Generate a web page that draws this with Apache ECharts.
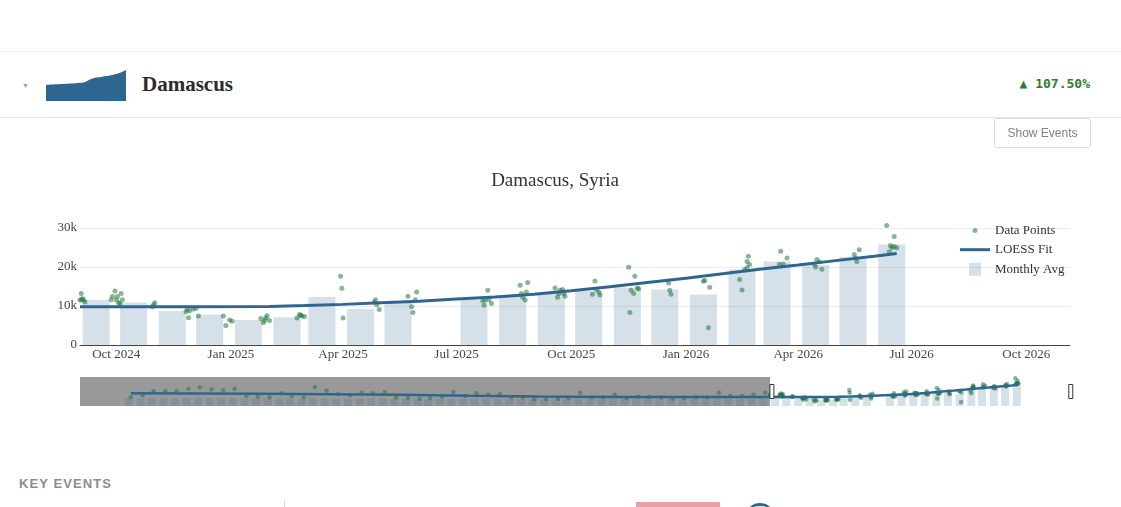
<!DOCTYPE html>
<html>
<head>
<meta charset="utf-8">
<title>Damascus, Syria</title>
<script src="https://cdn.jsdelivr.net/npm/echarts@6.0.0/dist/echarts.min.js"></script>
<style>
  html, body { margin: 0; padding: 0; background: #fff; }
  body { width: 1121px; height: 507px; position: relative; overflow: hidden; font-family: "Liberation Sans", Arial, sans-serif; }
  .abs { position: absolute; }
  #chart { position: absolute; left: 0; top: 0; width: 1121px; height: 430px; }
  #spark { position: absolute; left: 46px; top: 69px; width: 80px; height: 32px; }
  .topline { left: 0; top: 51px; width: 1121px; height: 1px; background: #f3f3f3; }
  .caret { left: 22px; top: 82px; font-size: 7px; line-height: 7px; color: #999; }
  .city { left: 142px; top: 74px; font: bold 21px/21px "Liberation Serif", serif; color: #2b2b2b; }
  .pct { right: 31px; top: 77px; font: bold 13px/13px "DejaVu Sans Mono", monospace; color: #2e7d32; }
  .sep { left: 0; top: 117px; width: 1121px; height: 1px; background: #e2e2e2; }
  .btn { left: 994px; top: 118px; width: 95px; height: 28px; border: 1px solid #dcdcdc; border-radius: 3px;
         font: 12px/28px "Liberation Sans", sans-serif; color: #808080; text-align: center; }
  .key { left: 19px; top: 477px; font: bold 13px/13px "Liberation Sans", sans-serif; letter-spacing: 1.1px; color: #8c8c8c; }
  .cut1 { left: 284px; top: 500px; width: 1px; height: 7px; background: #d8d8d8; }
  .cut2 { left: 636px; top: 502px; width: 84px; height: 5px; background: #e8a2a2; }
  .cut3 { left: 745px; top: 503px; width: 30px; height: 30px; border-radius: 50%; border-top: 3px solid #2f6690; box-sizing: border-box; }
</style>
</head>
<body>
<div class="abs topline"></div>
<div class="abs caret">&#9660;</div>
<div id="spark"></div>
<div class="abs city">Damascus</div>
<div class="abs pct">&#9650; 107.50%</div>
<div class="abs sep"></div>
<div id="chart"></div>
<div class="abs btn">Show Events</div>
<div class="abs key">KEY EVENTS</div>
<div class="abs cut1"></div>
<div class="abs cut2"></div>
<div class="abs cut3"></div>

<script>
// range of the whole series (shown in the slider) and the visible window
const fullStart = "2019-09-08";
const fullEnd = "2026-11-05";
const windowStart = "2024-09-02";

const tickDates = ["2024-10-01", "2025-01-01", "2025-04-01", "2025-07-01", "2025-10-01",
  "2026-01-01", "2026-04-01", "2026-07-01", "2026-10-01"];
const monthNames = ["Jan", "Feb", "Mar", "Apr", "May", "Jun", "Jul", "Aug", "Sep", "Oct", "Nov", "Dec"];

// monthly average (bar), one per month, June 2025 has no value
const monthlyAvg = [
  ["2020-01", 8400], ["2020-02", 8200], ["2020-03", 8600], ["2020-04", 8500], ["2020-05", 8300], ["2020-06", 8700],
  ["2020-07", 8800], ["2020-08", 8500], ["2020-09", 8400], ["2020-10", 8600], ["2020-11", 8000], ["2020-12", 7900],
  ["2021-01", 7800], ["2021-02", 8200], ["2021-03", 8000], ["2021-04", 7900], ["2021-05", 8600], ["2021-06", 8400],
  ["2021-07", 8200], ["2021-08", 8000], ["2021-09", 8300], ["2021-10", 8200], ["2021-11", 8400], ["2021-12", 7800],
  ["2022-01", 7600], ["2022-02", 7500], ["2022-03", 7600], ["2022-04", 7800], ["2022-05", 8200], ["2022-06", 7900],
  ["2022-07", 8100], ["2022-08", 8000], ["2022-09", 8000], ["2022-10", 7700], ["2022-11", 7600], ["2022-12", 7400],
  ["2023-01", 7500], ["2023-02", 7500], ["2023-03", 7600], ["2023-04", 8000], ["2023-05", 7700], ["2023-06", 7700],
  ["2023-07", 7900], ["2023-08", 7600], ["2023-09", 7800], ["2023-10", 7800], ["2023-11", 7700], ["2023-12", 7500],
  ["2024-01", 7600], ["2024-02", 7700], ["2024-03", 7700], ["2024-04", 8100], ["2024-05", 7900], ["2024-06", 7900],
  ["2024-07", 8000], ["2024-08", 8200],
  ["2024-09", 11600], ["2024-10", 10900], ["2024-11", 8700], ["2024-12", 7800],
  ["2025-01", 6400], ["2025-02", 7100], ["2025-03", 12300], ["2025-04", 9200], ["2025-05", 10900],
  ["2025-07", 11600], ["2025-08", 12500], ["2025-09", 13300], ["2025-10", 13800], ["2025-11", 14700], ["2025-12", 14200],
  ["2026-01", 12900], ["2026-02", 19300], ["2026-03", 21400], ["2026-04", 20500], ["2026-05", 22600], ["2026-06", 25700]
];

// older readings, about one a month
const earlyPoints = [
  ["2020-01-20", 9600], ["2020-02-20", 11800], ["2020-03-20", 16200], ["2020-04-20", 16200], ["2020-05-20", 16200],
  ["2020-06-20", 19000], ["2020-07-20", 20400], ["2020-08-20", 18200], ["2020-09-20", 17500], ["2020-10-20", 19000],
  ["2020-11-20", 11000], ["2020-12-20", 10300], ["2021-01-20", 9600], ["2021-02-20", 14000], ["2021-03-20", 11000],
  ["2021-04-20", 9600], ["2021-05-20", 21000], ["2021-06-20", 16900], ["2021-07-20", 13200], ["2021-08-20", 11800],
  ["2021-09-20", 14700], ["2021-10-20", 14000], ["2021-11-20", 15400], ["2021-12-20", 9600], ["2022-01-20", 8800],
  ["2022-02-20", 8100], ["2022-03-20", 8800], ["2022-04-20", 10300], ["2022-05-20", 15400], ["2022-06-20", 11000],
  ["2022-07-20", 14000], ["2022-08-20", 12500], ["2022-09-20", 13200], ["2022-10-20", 9600], ["2022-11-20", 9600],
  ["2022-12-20", 7400], ["2023-01-20", 8100], ["2023-02-20", 8100], ["2023-03-20", 8800], ["2023-04-20", 14700],
  ["2023-05-20", 9600], ["2023-06-20", 9600], ["2023-07-20", 12500], ["2023-08-20", 8800], ["2023-09-20", 10300],
  ["2023-10-20", 10300], ["2023-11-20", 9600], ["2023-12-20", 8100], ["2024-01-20", 8800], ["2024-02-20", 9600],
  ["2024-03-20", 9600], ["2024-04-20", 14700], ["2024-05-20", 11000], ["2024-06-20", 11000], ["2024-07-20", 12500],
  ["2024-08-20", 14700]
];

// recent readings (the visible window)
const recentPoints = [
  ["2024-09-02", 11500], ["2024-09-03", 13200], ["2024-09-03", 11600], ["2024-09-04", 11900], ["2024-09-05", 11500], ["2024-09-06", 11000],
  ["2024-09-27", 11600], ["2024-09-28", 12400], ["2024-09-30", 13800], ["2024-10-01", 11600], ["2024-10-02", 12400],
  ["2024-10-03", 10800], ["2024-10-04", 10600], ["2024-10-05", 13200], ["2024-10-06", 11600],
  ["2024-10-30", 9800], ["2024-10-31", 10300], ["2024-11-01", 10800],
  ["2024-11-26", 8500], ["2024-11-27", 9100], ["2024-11-28", 7000], ["2024-11-29", 8800], ["2024-12-02", 9200],
  ["2024-12-04", 9400], ["2024-12-06", 7400],
  ["2024-12-26", 7400], ["2024-12-28", 5000], ["2024-12-31", 6400], ["2025-01-02", 6100],
  ["2025-01-25", 6800], ["2025-01-27", 5700], ["2025-01-28", 6300], ["2025-01-29", 6900], ["2025-01-30", 7500], ["2025-02-01", 6300],
  ["2025-02-23", 6900], ["2025-02-25", 7800], ["2025-02-26", 7600], ["2025-02-27", 7400], ["2025-03-01", 7300],
  ["2025-03-30", 17600], ["2025-03-31", 14500], ["2025-04-01", 6900],
  ["2025-04-26", 11000], ["2025-04-27", 11600], ["2025-04-28", 10300], ["2025-04-30", 9100],
  ["2025-05-23", 12500], ["2025-05-26", 9800], ["2025-05-27", 8300], ["2025-05-29", 11600], ["2025-05-30", 13600],
  ["2025-07-22", 11300], ["2025-07-23", 10200], ["2025-07-24", 11600], ["2025-07-26", 14000], ["2025-07-27", 11600], ["2025-07-29", 10600],
  ["2025-08-21", 15300], ["2025-08-22", 13200], ["2025-08-23", 12200], ["2025-08-25", 11500], ["2025-08-26", 13600], ["2025-08-27", 16000],
  ["2025-09-18", 14600], ["2025-09-20", 12200], ["2025-09-21", 13200], ["2025-09-22", 14000], ["2025-09-24", 14200],
  ["2025-09-25", 13200], ["2025-09-26", 12500],
  ["2025-10-18", 13000], ["2025-10-20", 16400], ["2025-10-21", 14200], ["2025-10-23", 13600], ["2025-10-24", 12800],
  ["2025-11-16", 19900], ["2025-11-17", 8300], ["2025-11-18", 14000], ["2025-11-20", 13200], ["2025-11-21", 17600],
  ["2025-11-23", 14600], ["2025-11-24", 14400],
  ["2025-12-18", 15900], ["2025-12-19", 14000], ["2025-12-20", 13000],
  ["2026-01-15", 16300], ["2026-01-16", 16500], ["2026-01-19", 4400], ["2026-01-20", 14800],
  ["2026-02-13", 16800], ["2026-02-15", 14100], ["2026-02-17", 19300], ["2026-02-19", 21400], ["2026-02-19", 19800],
  ["2026-02-20", 22700], ["2026-02-21", 20600],
  ["2026-03-17", 20700], ["2026-03-18", 24000], ["2026-03-20", 20700], ["2026-03-23", 22300],
  ["2026-04-14", 20700], ["2026-04-15", 20000], ["2026-04-16", 21900], ["2026-04-18", 21300], ["2026-04-20", 19400],
  ["2026-05-16", 23200], ["2026-05-17", 22300], ["2026-05-18", 21400], ["2026-05-20", 24400],
  ["2026-06-11", 30600], ["2026-06-13", 23800], ["2026-06-14", 25500], ["2026-06-15", 24900], ["2026-06-17", 27800],
  ["2026-06-17", 25200], ["2026-06-19", 24900]
];

// LOESS fit
const loessFit = [
  ["2020-01-20", 14000], ["2020-07-01", 13800], ["2021-01-01", 13500], ["2021-07-01", 13100], ["2022-01-01", 12300],
  ["2022-07-01", 11300], ["2023-01-01", 10500], ["2023-07-01", 10000], ["2024-01-01", 9850], ["2024-06-01", 9800],
  ["2024-09-02", 9800], ["2024-12-01", 9800], ["2025-02-01", 9850], ["2025-03-01", 10100], ["2025-04-01", 10400],
  ["2025-05-01", 10800], ["2025-06-01", 11200], ["2025-07-01", 11800], ["2025-08-01", 12300], ["2025-09-01", 13000],
  ["2025-10-01", 13900], ["2025-11-01", 14900], ["2025-12-01", 16000], ["2026-01-01", 17100], ["2026-02-01", 18300],
  ["2026-03-01", 19400], ["2026-04-01", 20500], ["2026-05-01", 21600], ["2026-06-01", 22700], ["2026-06-19", 23400]
];

// header sparkline
const sparkValues = [12100, 12400, 12600, 12800, 13000, 13200, 13400, 13700, 14600, 16600, 17700,
  18200, 18800, 19400, 20400, 21600, 23400];

const blue = "#2f6690";
const green = "rgba(34,120,60,0.68)";
const barColor = "rgba(47,102,144,0.2)";
const serif = "Liberation Serif";

function ts(s) {
  let p = s.split("-").map(Number);
  return new Date(p[0], p[1] - 1, p[2] || 15).getTime();
}

const barData = monthlyAvg.map(d => [ts(d[0] + "-15"), d[1]]);
const pointData = earlyPoints.concat(recentPoints).map(d => [ts(d[0]), d[1]]);
const loessData = loessFit.map(d => [ts(d[0]), d[1]]);

function legend(name, left, top, icon, h) {
  return {
    data: [{ name: name, icon: icon }],
    left: left, top: top, padding: 0,
    itemWidth: 30, itemHeight: h, itemGap: 0,
    textStyle: { fontFamily: serif, fontSize: 13, color: "#333", lineHeight: 14 },
    selectedMode: false
  };
}

const chart = echarts.init(document.getElementById("chart"));
chart.setOption({
  animation: false,
  title: {
    text: "Damascus, Syria",
    left: 555, top: 172, padding: 0, textAlign: "center",
    textStyle: { fontFamily: serif, fontSize: 19, fontWeight: "normal", color: "#333" }
  },
  legend: [
    legend("Data Points", 972.5, 223.5, "circle", 5),
    legend("LOESS Fit", 960, 242.7, "rect", 3),
    legend("Monthly Avg", 969, 262.3, "path://M0,0H12V13H0Z", 13)
  ],
  grid: [
    { left: 80, right: 51, top: 220, height: 125, outerBoundsMode: "none" },
    { left: 80, right: 50, top: 377, height: 29, outerBoundsMode: "none" }
  ],
  xAxis: [
    {
      type: "value", gridIndex: 0, min: ts(fullStart), max: ts(fullEnd),
      axisLine: { onZero: false, lineStyle: { color: "#444", width: 1 } },
      axisTick: { show: false },
      splitLine: { show: false },
      axisLabel: {
        customValues: tickDates.map(ts),
        formatter: v => { let d = new Date(v); return monthNames[d.getMonth()] + " " + d.getFullYear(); },
        fontFamily: serif, fontSize: 13, color: "#444", margin: 3, hideOverlap: false
      }
    },
    {
      type: "value", gridIndex: 1, min: ts(fullStart), max: ts(fullEnd), show: false
    }
  ],
  yAxis: [
    {
      type: "value", gridIndex: 0, min: 0, max: 32000, interval: 10000,
      axisLine: { show: false }, axisTick: { show: false },
      splitLine: { lineStyle: { color: "#ebebeb" }, showMaxLine: false },
      axisLabel: {
        showMaxLabel: false,
        formatter: v => v % 10000 ? "" : (v === 0 ? "0" : v / 1000 + "k"),
        fontFamily: serif, fontSize: 13, color: "#444", margin: 3
      }
    },
    { type: "value", gridIndex: 1, min: 0, max: 32000, show: false }
  ],
  dataZoom: [{
    type: "slider", xAxisIndex: 0, filterMode: "filter",
    startValue: ts(windowStart), endValue: ts(fullEnd),
    left: 80, right: 50, top: 377, height: 29,
    backgroundColor: "rgba(0,0,0,0)", borderColor: "rgba(0,0,0,0)", fillerColor: "rgba(0,0,0,0)",
    showDataShadow: false, showDetail: false, brushSelect: false, moveHandleSize: 0,
    handleIcon: "path://M0,0H4V14H0Z", handleSize: 14,
    handleStyle: { color: "#fff", borderColor: "#333", borderWidth: 1 },
    emphasis: { handleStyle: { color: "#fff", borderColor: "#333", borderWidth: 1 } }
  }],
  series: [
    {
      name: "Monthly Avg", type: "bar", xAxisIndex: 0, yAxisIndex: 0, clip: true,
      data: barData, barWidth: 27, itemStyle: { color: barColor }, z: 1
    },
    {
      name: "Data Points", type: "scatter", xAxisIndex: 0, yAxisIndex: 0, clip: true,
      data: pointData, symbolSize: 5, itemStyle: { color: green }, z: 2
    },
    {
      name: "LOESS Fit", type: "line", xAxisIndex: 0, yAxisIndex: 0, color: blue, clip: true,
      data: loessData, showSymbol: false, lineStyle: { color: blue, width: 3 }, z: 3
    },
    // range slider preview
    {
      name: "Monthly Avg", type: "bar", xAxisIndex: 1, yAxisIndex: 1,
      data: barData, barWidth: 8, itemStyle: { color: barColor }, z: 1
    },
    {
      name: "Data Points", type: "scatter", xAxisIndex: 1, yAxisIndex: 1,
      data: pointData, symbolSize: 4.5, itemStyle: { color: green }, z: 2
    },
    {
      name: "LOESS Fit", type: "line", xAxisIndex: 1, yAxisIndex: 1,
      data: loessData, showSymbol: false, lineStyle: { color: blue, width: 2.5 }, z: 3
    },
    {
      type: "line", xAxisIndex: 1, yAxisIndex: 1, data: [], z: 10, silent: true,
      markArea: {
        silent: true, itemStyle: { color: "rgba(0,0,0,0.4)" },
        data: [[{ xAxis: ts(fullStart) }, { xAxis: ts(windowStart) }]]
      }
    }
  ]
});

const spark = echarts.init(document.getElementById("spark"));
spark.setOption({
  animation: false,
  grid: { left: 0, right: 0, top: 1, bottom: 0, outerBoundsMode: "none" },
  xAxis: { type: "category", show: false, boundaryGap: false, data: sparkValues.map((v, i) => i) },
  yAxis: { type: "value", show: false, min: 0, max: 23400 },
  series: [{
    type: "line", data: sparkValues, showSymbol: false, smooth: 0.2,
    lineStyle: { width: 0 }, areaStyle: { color: blue, opacity: 1 }
  }]
});
</script>
</body>
</html>
